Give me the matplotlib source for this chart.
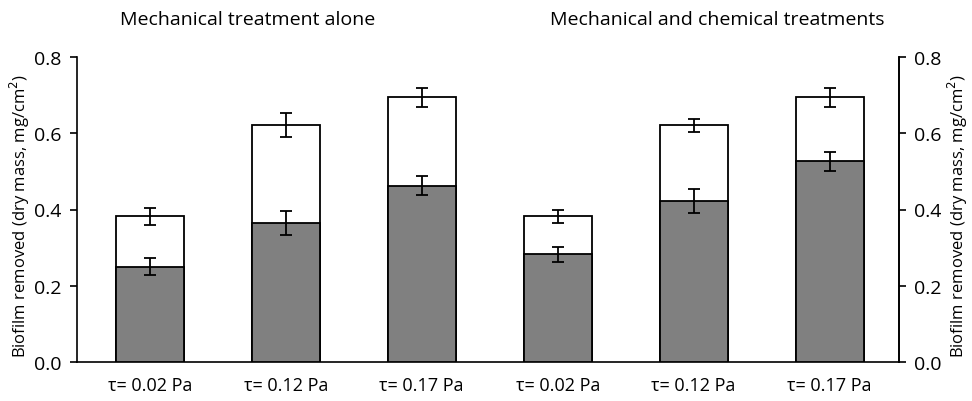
import matplotlib
matplotlib.use("Agg")
import matplotlib.pyplot as plt
import numpy as np

# Data
labels = ["τ= 0.02 Pa", "τ= 0.12 Pa", "τ= 0.17 Pa",
          "τ= 0.02 Pa", "τ= 0.12 Pa", "τ= 0.17 Pa"]
total = [0.382, 0.621, 0.694, 0.382, 0.621, 0.694]
total_err = [0.022, 0.031, 0.025, 0.017, 0.017, 0.024]
part = [0.250, 0.364, 0.462, 0.282, 0.423, 0.527]
part_err = [0.023, 0.032, 0.025, 0.020, 0.031, 0.025]
yticks = [0, 0.2, 0.4, 0.6, 0.8]
yticklabels = ["0.0", "0.2", "0.4", "0.6", "0.8"]

plt.rcParams['font.family'] = ['Open Sans', 'DejaVu Sans']

fig = plt.figure(figsize=(9.72, 4.02), dpi=100)
ax = fig.add_axes([77 / 972, 1 - 363 / 402, (899 - 77) / 972, (363 - 58) / 402])

x = np.arange(len(labels))
w = 0.5
ekw = dict(ecolor="black", elinewidth=1.3, capsize=4, capthick=1.3)

ax.bar(x, total, w, color="white", edgecolor="black", linewidth=1.3,
       yerr=total_err, error_kw=ekw, zorder=2)
ax.bar(x, part, w, color="#808080", edgecolor="black", linewidth=1.3,
       yerr=part_err, error_kw=ekw, zorder=3)

ax.set_xlim(-0.535, 5.51)
ax.set_ylim(0, 0.8)
ax.set_yticks(yticks)
ax.set_yticklabels(yticklabels, fontsize=14)
ax.set_xticks(x)
ax.set_xticklabels(labels, fontsize=13)
ax.tick_params(axis="x", length=0, pad=10)
ax.tick_params(axis="y", direction="out", length=5, width=1.2, pad=6)
ax.spines["top"].set_visible(False)
for s in ["left", "right", "bottom"]:
    ax.spines[s].set_linewidth(1.2)

# right-hand axis, same scale
ax2 = ax.twinx()
ax2.set_ylim(0, 0.8)
ax2.set_yticks(yticks)
ax2.set_yticklabels(yticklabels, fontsize=14)
ax2.tick_params(axis="y", direction="out", length=5, width=1.2, pad=6)
for s in ["top", "left", "bottom"]:
    ax2.spines[s].set_visible(False)
ax2.spines["right"].set_linewidth(1.2)

ylab = "Biofilm removed (dry mass, mg/cm$^2$)"
fig.text(20 / 972, 1 - 216 / 402, ylab, rotation=90, ha="center", va="center",
         fontsize=12)
fig.text(958 / 972, 1 - 216 / 402, ylab, rotation=90, ha="center", va="center",
         fontsize=12)

fig.text(248 / 972, 1 - 20 / 402, "Mechanical treatment alone",
         ha="center", va="center", fontsize=14)
fig.text(717 / 972, 1 - 20 / 402, "Mechanical and chemical treatments",
         ha="center", va="center", fontsize=14)

fig.savefig("out.png", dpi=100)
